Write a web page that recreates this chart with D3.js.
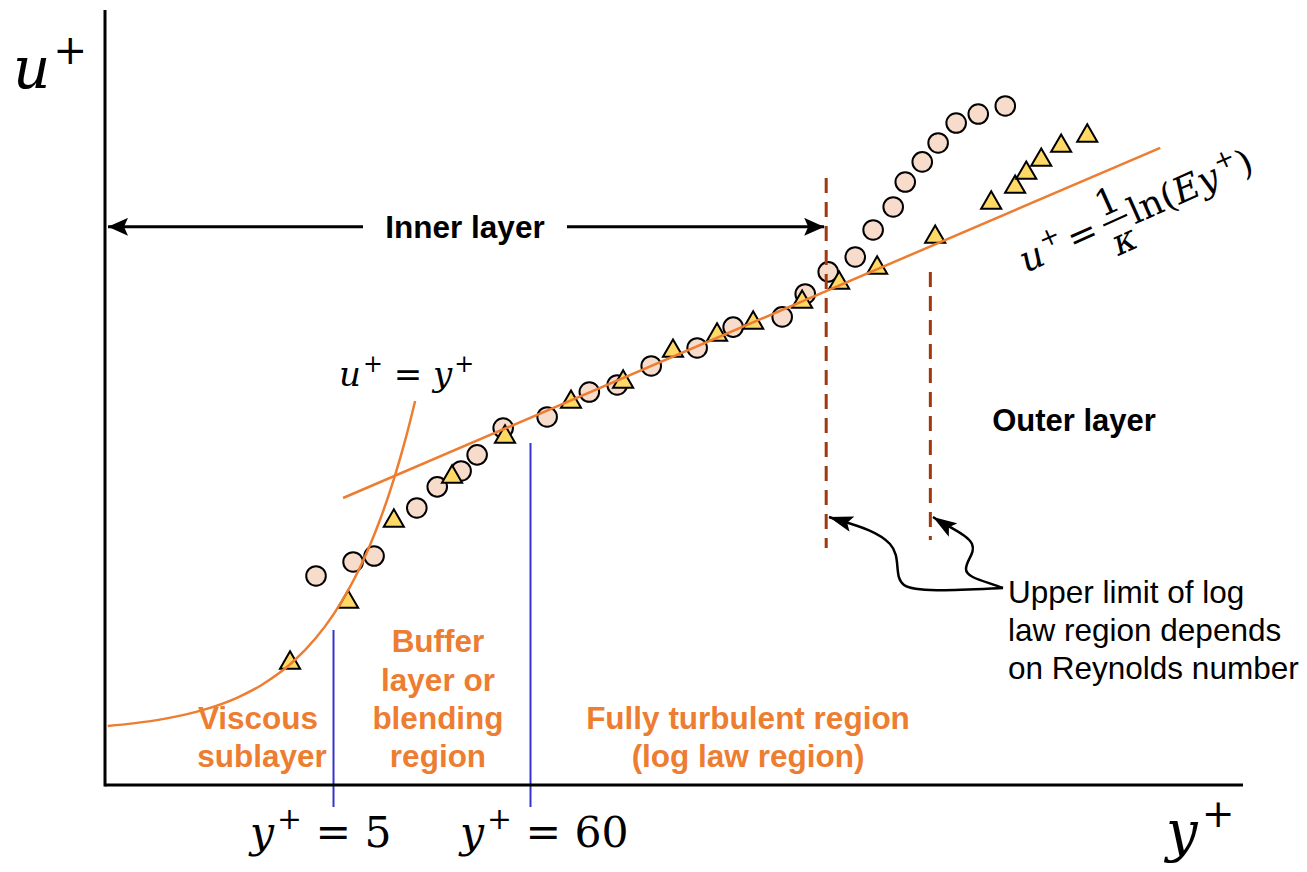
<!DOCTYPE html>
<html><head><meta charset="utf-8">
<script src="https://cdn.jsdelivr.net/npm/d3@7"></script>
<style>body{margin:0;background:#fff}</style></head>
<body><svg id="c" width="1307" height="872"></svg>
<script>
// ---- data (y+ , u+) ----
const circleYplus = [4.01,6.40,8.34,14.3,18.5,25.0,30.6,42.5,74.0,126,179,275,491,773,1435,1919,2564,3606,4519,5821,6776,8395,10260,12880,17020,23930];
const circleUplus = [6.62,7.21,7.46,9.49,10.38,11.05,11.73,12.86,13.33,14.38,14.68,15.48,16.24,17.12,17.55,18.52,19.45,20.08,21.22,22.19,23.24,24.09,24.89,25.73,26.11,26.45];
const triYplus = [2.89,6.01,10.7,22.3,43.5,100,193,362,631,995,1845,2944,4753,9886,20040,27100,31190,37670,48420,67300];
const triUplus = [2.95,5.52,8.94,10.80,12.49,13.96,14.81,16.11,16.79,17.30,18.18,18.98,19.62,20.92,22.36,23.03,23.62,24.17,24.76,25.19];
const viscousYplus = [0.29,0.4,0.6,0.8,1,1.5,2,2.5,3,4,5,6,7,8,9,10,11,12,13,14];   // u+ = y+
const logLawYplus = [5.64,169000];
const logLawUplus = [9.91,24.68];
const boundaryYplus = [5,60];
const boundaryTopUplus = [4.34,12.23];
const limitYplus = [2500,9300];
const limitTopUplus = [23.41,19.45];
const limitBottomUplus = [7.8,8.14];
const innerLayerUplus = 21.35;

const svg = d3.select('#c');
const x = d3.scaleLog().domain([0.28,480000]).range([105,1243]);
const y = d3.scaleLinear().domain([-2.2,30.5]).range([785,10]);

const ORANGE = '#ED7D31', BROWN = '#A0390E', BLUE = '#3535CC';

// markers
const defs = svg.append('defs');
defs.append('marker').attr('id','ah').attr('markerUnits','userSpaceOnUse')
  .attr('viewBox','0 0 20 18').attr('refX',20).attr('refY',9)
  .attr('markerWidth',20).attr('markerHeight',18).attr('orient','auto-start-reverse')
  .append('path').attr('d','M0,0 L20,9 L0,18 L4,9 Z').attr('fill','#000');
defs.append('marker').attr('id','ah2').attr('markerUnits','userSpaceOnUse')
  .attr('viewBox','0 0 24 16').attr('refX',24).attr('refY',8)
  .attr('markerWidth',24).attr('markerHeight',16).attr('orient','auto')
  .append('path').attr('d','M0,0 L24,8 L0,16 L5,8 Z').attr('fill','#000');

// data points
svg.append('g').selectAll('circle').data(circleYplus).join('circle')
  .attr('cx',d=>x(d)).attr('cy',(d,i)=>y(circleUplus[i])).attr('r',9.8)
  .attr('fill','#F8DCCB').attr('stroke','#000').attr('stroke-width',2);
const tri = d3.symbol().type(d3.symbolTriangle).size(175);
svg.append('g').selectAll('path').data(triYplus).join('path')
  .attr('d',tri).attr('transform',(d,i)=>`translate(${x(d)},${y(triUplus[i])})`)
  .attr('fill','#FFD966').attr('stroke','#000').attr('stroke-width',2).attr('stroke-linejoin','miter');

// theory lines
const line = d3.line().x(d=>x(d[0])).y(d=>y(d[1])).curve(d3.curveMonotoneX);
svg.append('path').attr('d',line(viscousYplus.map(v=>[v,v])))
  .attr('fill','none').attr('stroke',ORANGE).attr('stroke-width',2.5);
svg.append('path').attr('d',line(logLawYplus.map((v,i)=>[v,logLawUplus[i]])))
  .attr('fill','none').attr('stroke',ORANGE).attr('stroke-width',2.5);

// boundary lines
boundaryYplus.forEach((b,i)=>{
  svg.append('line').attr('x1',x(b)).attr('x2',x(b)).attr('y1',y(boundaryTopUplus[i])).attr('y2',y.range()[0]+22)
    .attr('stroke',BLUE).attr('stroke-width',2);
});
// dashed upper limits
limitYplus.forEach((b,i)=>{
  svg.append('line').attr('x1',x(b)).attr('x2',x(b)).attr('y1',y(limitTopUplus[i])).attr('y2',y(limitBottomUplus[i]))
    .attr('stroke',BROWN).attr('stroke-width',3).attr('stroke-dasharray','15,9');
});

// axes
svg.append('line').attr('x1',x.range()[0]).attr('x2',x.range()[0]).attr('y1',y.range()[1]).attr('y2',y.range()[0]+1.5)
  .attr('stroke','#000').attr('stroke-width',3);
svg.append('line').attr('x1',x.range()[0]).attr('x2',x.range()[1]).attr('y1',y.range()[0]).attr('y2',y.range()[0])
  .attr('stroke','#000').attr('stroke-width',3);

// inner layer arrow
const iy = y(innerLayerUplus);
svg.append('line').attr('x1',363).attr('x2',x.range()[0]+3).attr('y1',iy).attr('y2',iy)
  .attr('stroke','#000').attr('stroke-width',3).attr('marker-end','url(#ah)');
svg.append('line').attr('x1',567).attr('x2',x(limitYplus[0])-2).attr('y1',iy).attr('y2',iy)
  .attr('stroke','#000').attr('stroke-width',3).attr('marker-end','url(#ah)');

const SANS = 'Liberation Sans, Arial, sans-serif';
function label(txt,xp,yp,opt={}){
  return svg.append('text').attr('x',xp).attr('y',yp).text(txt)
    .attr('font-family',SANS).attr('font-size',opt.size||31)
    .attr('font-weight',opt.bold?'bold':'normal').attr('fill',opt.color||'#000')
    .attr('text-anchor',opt.anchor||'start');
}
label('Inner layer',465,238,{bold:true,anchor:'middle',size:31.5});
label('Outer layer',1074,431,{bold:true,anchor:'middle',size:31});
['Upper limit of log','law region depends','on Reynolds number'].forEach((t,i)=>label(t,1008,603+i*38,{size:31.5}));
[['Viscous',258,729],['sublayer',262,767]].forEach(a=>label(a[0],a[1],a[2],{bold:true,color:ORANGE,anchor:'middle',size:31.5}));
[['Buffer',438,652],['layer or',438,691],['blending',438,729],['region',438,767]].forEach(a=>label(a[0],a[1],a[2],{bold:true,color:ORANGE,anchor:'middle',size:31.5}));
[['Fully turbulent region',748,729],['(log law region)',748,767]].forEach(a=>label(a[0],a[1],a[2],{bold:true,color:ORANGE,anchor:'middle',size:31.5}));

// curved leader arrows
svg.append('path').attr('d','M1003,588 C960,590 915,593 904,585 C893,577 902,557 890,544 C878,531 858,526 829,517')
  .attr('fill','none').attr('stroke','#000').attr('stroke-width',2.5).attr('marker-end','url(#ah2)');
svg.append('path').attr('d','M1003,588 C985,581 966,578 966,569 C966,560 976,553 972,544 C968,535 950,528 933,517')
  .attr('fill','none').attr('stroke','#000').attr('stroke-width',2.5).attr('marker-end','url(#ah2)');

// math labels
const SERIF = 'DejaVu Serif, Liberation Serif, serif';
function math(g, xp, yp, parts, size){
  const t = g.append('text').attr('x',xp).attr('y',yp).attr('font-family',SERIF).attr('font-size',size).attr('fill','#000');
  let up = 0;
  parts.forEach(p=>{
    const s = t.append('tspan').text(p.t);
    if(p.i) s.attr('font-style','italic');
    const want = p.sup ? -size*0.42 : 0;
    if(want!==up){ s.attr('dy',want-up); up = want; }
    if(p.sup) s.attr('font-size',size*0.7);
    if(p.dx) s.attr('dx',p.dx);
  });
  return t;
}
math(svg,13,88,[{t:'u',i:true},{t:'+',sup:true,dx:3}],58);
math(svg,1166,851,[{t:'y',i:true},{t:'+',sup:true,dx:4}],56);
math(svg,250,847,[{t:'y',i:true},{t:'+',sup:true,dx:3},{t:' = 5'}],42.5);
math(svg,460,847,[{t:'y',i:true},{t:'+',sup:true,dx:3},{t:' = 60'}],42.5);
math(svg,339,386,[{t:'u',i:true},{t:'+',sup:true,dx:2},{t:' = '},{t:'y',i:true},{t:'+',sup:true,dx:2}],34);

// log-law formula (rotated)
const FS = 36;
const fg = svg.append('g').attr('transform','translate(1026,273) rotate(-24)');
math(fg,0,0,[{t:'u',i:true},{t:'+',sup:true,dx:2}],FS);
fg.append('text').attr('x',52).attr('y',0).attr('font-family',SERIF).attr('font-size',FS).text('=');
fg.append('text').attr('x',103).attr('y',-20).attr('text-anchor','middle').attr('font-family',SERIF).attr('font-size',FS).text('1');
fg.append('line').attr('x1',90).attr('x2',116).attr('y1',-12).attr('y2',-12).attr('stroke','#000').attr('stroke-width',2.2);
fg.append('text').attr('x',103).attr('y',22).attr('text-anchor','middle').attr('font-family',SERIF).attr('font-size',FS).attr('font-style','italic').text('κ');
math(fg,119,0,[{t:'ln('},{t:'E',i:true},{t:'y',i:true},{t:'+',sup:true,dx:2},{t:')'}],FS);
</script></body></html>
